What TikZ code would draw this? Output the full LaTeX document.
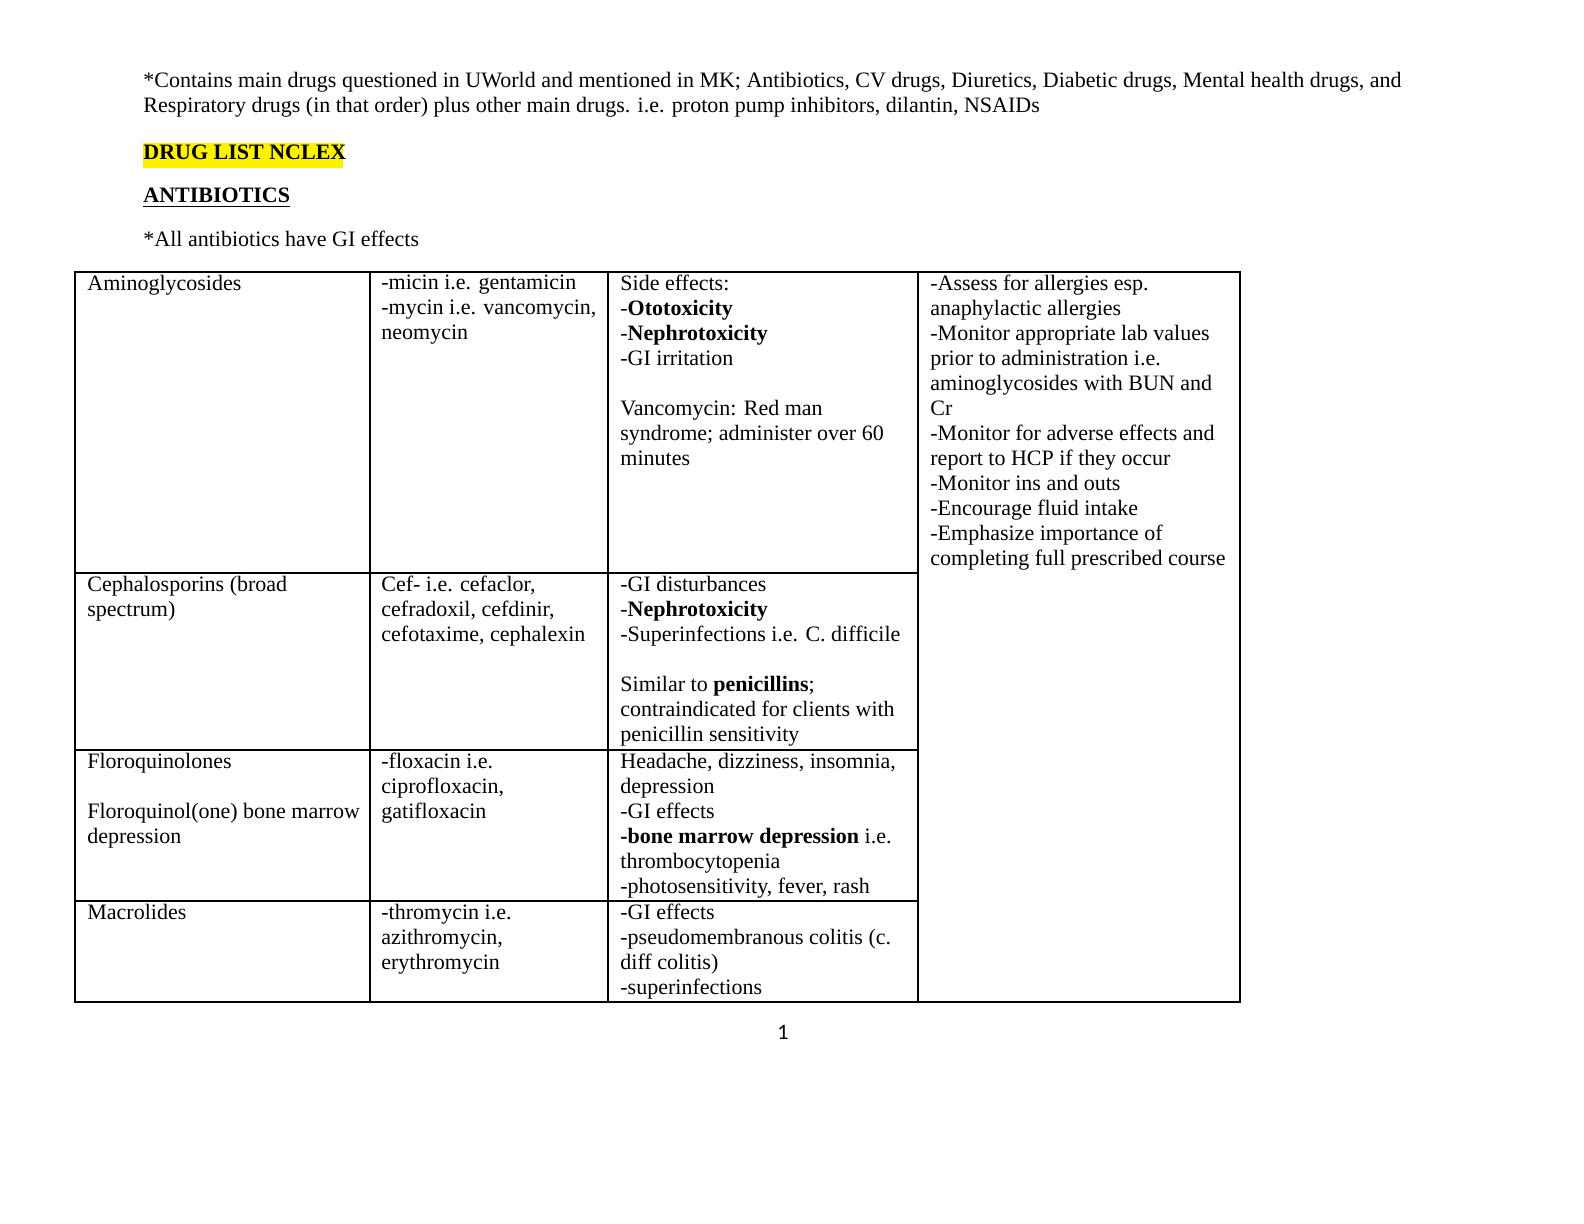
\documentclass[tikz,border=0pt]{standalone}
\usepackage{fontspec}
\setmainfont{Liberation Serif}
\newfontfamily\pagefont{Carlito}
\usetikzlibrary{positioning}
\tikzset{
  cell/.style={anchor=north west, inner sep=0pt, align=left,
    font=\fontsize{11}{12.5}\selectfont},
  rule/.style={line width=0.6pt}
}
\begin{document}
\begin{tikzpicture}[x=0.5pt,y=-0.5pt]
\useasboundingbox (0,0) rectangle (1584,1224);
% heading text
\node[cell] (intro) at (143,72) {*Contains main drugs questioned in UWorld and mentioned in MK; Antibiotics, CV drugs, Diuretics, Diabetic drugs, Mental health drugs, and\\Respiratory drugs (in that order) plus other main drugs. i.e. proton pump inhibitors, dilantin, NSAIDs};
\fill[yellow] (143,143) rectangle (343,168);
\node[cell] (title) at (143,145) {\textbf{DRUG LIST NCLEX}};
\node[cell] (section) at (143,188) {\textbf{\underline{ANTIBIOTICS}}};
\node[cell] (note) at (143,231) {*All antibiotics have GI effects};
% table grid
\draw[rule] (75,272) rectangle (1240,1002);
\foreach \x in {370,608,918} \draw[rule] (\x,272) -- (\x,1002);
\foreach \y in {573,750,901} \draw[rule] (75,\y) -- (918,\y);
% row 1
\node[cell] (amino) at (87,275) {Aminoglycosides};
\node[cell] (aminoex) at (381,275) {-micin i.e. gentamicin\\-mycin i.e. vancomycin,\\neomycin};
\node[cell] (aminose) at (620,275) {Side effects:\\-\textbf{Ototoxicity}\\-\textbf{Nephrotoxicity}\\-GI irritation\\[12.5pt]Vancomycin: Red man\\syndrome; administer over 60\\minutes};
\node[cell] (nursing) at (930,275) {-Assess for allergies esp.\\anaphylactic allergies\\-Monitor appropriate lab values\\prior to administration i.e.\\aminoglycosides with BUN and\\Cr\\-Monitor for adverse effects and\\report to HCP if they occur\\-Monitor ins and outs\\-Encourage fluid intake\\-Emphasize importance of\\completing full prescribed course};
% row 2
\node[cell] (ceph) at (87,576) {Cephalosporins (broad\\spectrum)};
\node[cell] (cephex) at (381,576) {Cef- i.e. cefaclor,\\cefradoxil, cefdinir,\\cefotaxime, cephalexin};
\node[cell] (cephse) at (620,576) {-GI disturbances\\-\textbf{Nephrotoxicity}\\-Superinfections i.e. C. difficile\\[12.5pt]Similar to \textbf{penicillins};\\contraindicated for clients with\\penicillin sensitivity};
% row 3
\node[cell] (fluoro) at (87,753) {Floroquinolones\\[12.5pt]Floroquinol(one) bone marrow\\depression};
\node[cell] (fluoroex) at (381,753) {-floxacin i.e.\\ciprofloxacin,\\gatifloxacin};
\node[cell] (fluorose) at (620,753) {Headache, dizziness, insomnia,\\depression\\-GI effects\\\textbf{-bone marrow depression} i.e.\\thrombocytopenia\\-photosensitivity, fever, rash};
% row 4
\node[cell] (macro) at (87,904) {Macrolides};
\node[cell] (macroex) at (381,904) {-thromycin i.e.\\azithromycin,\\erythromycin};
\node[cell] (macrose) at (620,904) {-GI effects\\-pseudomembranous colitis (c.\\diff colitis)\\-superinfections};
% page number
\node[font=\pagefont\fontsize{11}{12}\selectfont, inner sep=0pt] (page) at (783,1032) {1};
\end{tikzpicture}
\end{document}
